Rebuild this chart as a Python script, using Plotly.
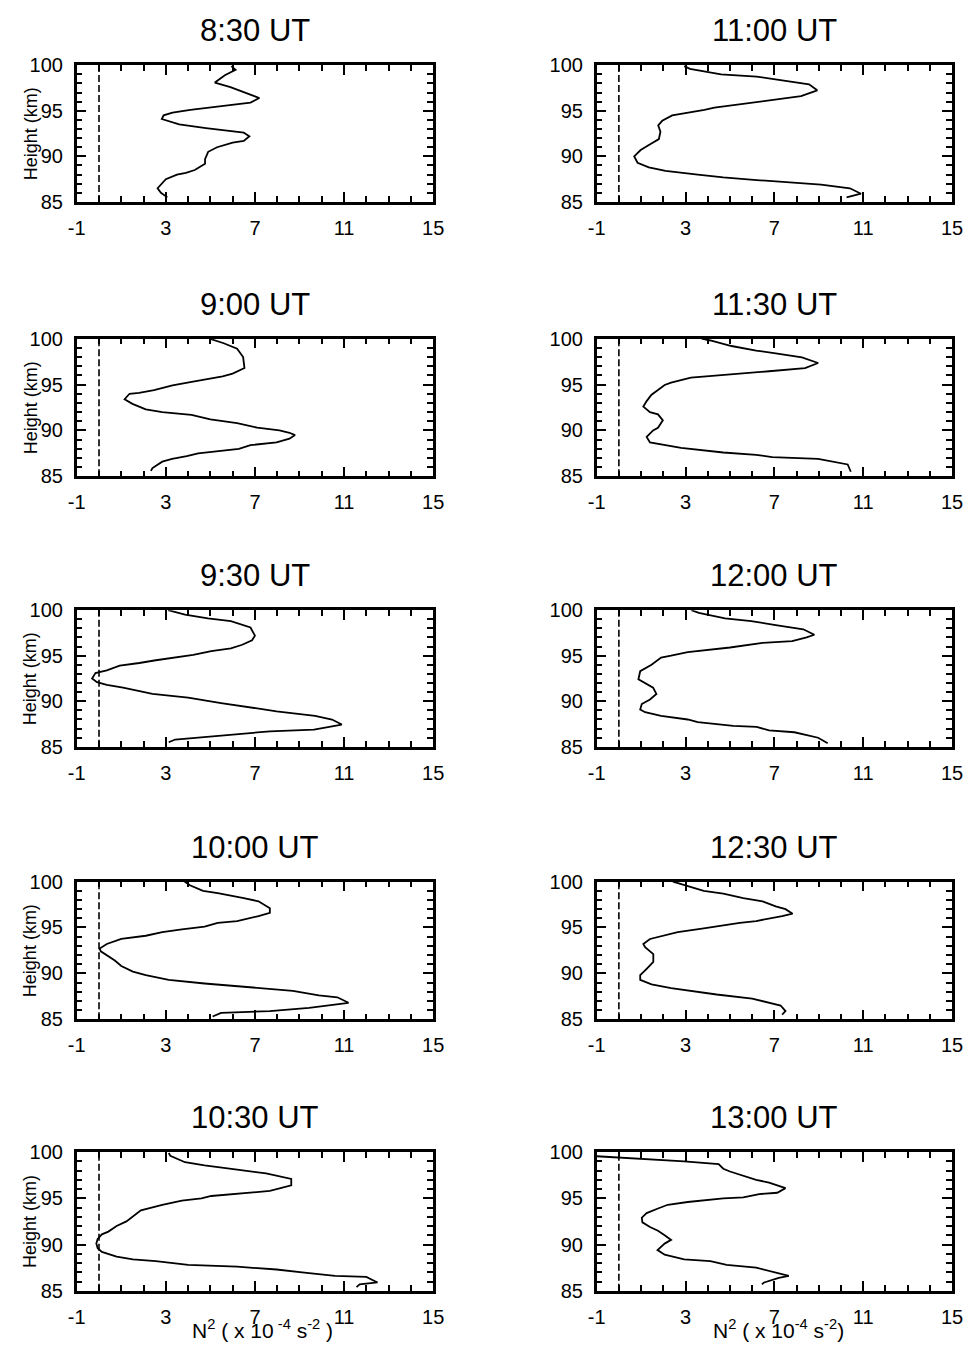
import plotly.graph_objects as go

# page is 976x1355; the browser body keeps its default 8px margin,
# so the figure itself is 16px smaller and all page positions are shifted by -8
PAGE_W, PAGE_H = 976, 1355
OFF = 8
W, H = PAGE_W - 2 * OFF, PAGE_H - 2 * OFF

# ---------------- data (N^2 in 1e-4 s^-2, height in km) ----------------
h_0830 = [99.9, 99.5, 98.9, 98.1, 97.6, 97.0, 96.4, 95.9, 95.6, 95.3, 95.1, 94.8, 94.5, 94.1, 93.5, 93.1, 92.8, 92.6, 92.2, 91.7, 91.5, 91.0, 90.5, 89.7, 89.2, 88.5, 88.2, 88.0, 87.5, 86.9, 86.5, 86.0, 85.5]
n2_0830 = [5.94, 6.13, 5.65, 5.2, 5.9, 6.6, 7.2, 6.8, 5.8, 4.6, 4.1, 3.3, 2.9, 2.82, 3.6, 4.8, 6.0, 6.5, 6.75, 6.5, 6.0, 5.3, 4.9, 4.76, 4.76, 4.3, 3.9, 3.5, 3.0, 2.78, 2.63, 2.78, 3.07]

h_1100 = [99.9, 99.6, 99.0, 98.75, 97.9, 97.25, 96.6, 96.25, 95.7, 95.35, 95.1, 94.5, 93.9, 93.4, 92.7, 91.9, 91.25, 90.7, 90.0, 89.3, 88.8, 88.4, 88.0, 87.7, 87.4, 86.9, 86.5, 85.9, 85.5]
n2_1100 = [2.94, 3.2, 4.6, 6.2, 8.56, 8.93, 8.2, 7.1, 5.6, 4.3, 3.85, 2.4, 1.95, 1.77, 1.87, 1.8, 1.35, 0.98, 0.69, 0.84, 1.35, 2.1, 3.55, 4.7, 6.2, 9.1, 10.4, 10.9, 10.25]

h_0900 = [100.0, 99.5, 98.9, 98.0, 96.8, 96.2, 95.9, 95.6, 95.3, 94.9, 94.4, 94.1, 94.0, 93.4, 92.9, 92.3, 92.0, 91.7, 91.2, 90.8, 90.3, 90.0, 89.75, 89.5, 89.1, 88.7, 88.4, 88.0, 87.7, 87.5, 87.2, 86.9, 86.6, 85.9, 85.6]
n2_0900 = [4.96, 5.6, 6.2, 6.47, 6.53, 6.0, 5.55, 4.75, 4.16, 3.3, 2.47, 1.8, 1.37, 1.15, 1.5, 2.1, 2.84, 4.15, 5.0, 6.2, 7.1, 8.1, 8.55, 8.8, 8.55, 7.97, 6.8, 6.28, 5.33, 4.45, 3.94, 3.28, 2.84, 2.4, 2.33]

h_1130 = [100.0, 99.8, 99.2, 98.7, 98.4, 97.95, 97.35, 96.8, 96.45, 96.1, 95.75, 95.2, 94.95, 94.4, 93.9, 93.2, 92.6, 92.0, 91.75, 91.1, 90.3, 90.0, 89.3, 88.7, 88.5, 88.1, 87.6, 87.35, 87.1, 86.9, 86.3, 85.8, 85.5]
n2_1130 = [3.72, 4.12, 5.07, 6.18, 7.06, 8.24, 8.97, 8.38, 6.76, 4.99, 3.24, 2.35, 2.06, 1.76, 1.47, 1.25, 1.1, 1.4, 1.76, 1.98, 1.76, 1.54, 1.25, 1.4, 1.9, 2.8, 4.7, 6.18, 6.9, 8.97, 10.3, 10.4, 10.44]

h_0930 = [100.0, 99.5, 99.1, 98.8, 98.1, 97.2, 96.7, 96.2, 95.8, 95.5, 95.1, 94.8, 94.5, 94.2, 93.9, 93.4, 93.1, 92.5, 92.1, 91.8, 91.5, 90.8, 90.4, 89.8, 89.4, 88.9, 88.4, 88.0, 87.45, 86.9, 86.7, 86.4, 86.1, 85.8, 85.5]
n2_0930 = [3.1, 3.86, 4.89, 5.92, 6.8, 7.0, 6.87, 6.43, 5.92, 5.04, 4.23, 3.28, 2.55, 1.81, 0.93, 0.35, -0.16, -0.31, -0.09, 0.35, 1.08, 2.4, 4.0, 5.48, 6.5, 7.97, 9.7, 10.46, 10.9, 9.65, 7.67, 6.2, 4.74, 3.42, 3.13]

h_1200 = [100.0, 99.7, 99.1, 98.8, 98.35, 97.9, 97.3, 97.0, 96.6, 96.4, 95.9, 95.4, 95.0, 94.8, 94.0, 93.3, 92.4, 91.8, 91.5, 90.8, 90.2, 89.7, 89.1, 88.8, 88.4, 88.0, 87.7, 87.3, 87.2, 86.8, 86.6, 86.0, 85.4]
n2_1200 = [3.26, 3.6, 4.78, 5.96, 7.06, 8.3, 8.8, 8.45, 7.8, 6.47, 5.0, 3.1, 2.35, 1.9, 1.47, 0.96, 0.88, 1.32, 1.54, 1.69, 1.4, 1.03, 0.96, 1.18, 1.9, 3.1, 3.55, 5.15, 6.2, 6.76, 7.9, 8.97, 9.4]

h_1000 = [100.0, 99.6, 99.0, 98.75, 98.2, 97.85, 97.1, 96.6, 96.25, 95.7, 95.5, 95.1, 94.8, 94.5, 94.1, 93.9, 93.75, 93.2, 92.7, 92.4, 92.0, 91.4, 90.8, 90.2, 89.8, 89.3, 88.9, 88.6, 88.3, 88.1, 87.6, 87.4, 86.8, 86.25, 85.9, 85.7, 85.3]
n2_1000 = [3.84, 4.08, 4.67, 5.33, 6.5, 7.16, 7.67, 7.67, 7.16, 6.2, 5.33, 4.74, 3.72, 2.84, 2.1, 1.52, 1.0, 0.35, 0.03, 0.08, 0.35, 0.71, 1.0, 1.52, 2.1, 3.13, 4.74, 6.2, 7.67, 8.7, 9.87, 10.7, 11.2, 9.43, 7.67, 5.48, 5.1]

h_1230 = [100.0, 99.5, 99.0, 98.7, 98.2, 97.85, 97.3, 97.0, 96.5, 96.25, 95.7, 95.5, 95.2, 94.9, 94.5, 93.9, 93.75, 93.2, 92.85, 92.1, 91.25, 90.5, 89.8, 89.3, 88.8, 88.4, 88.0, 87.7, 87.25, 86.8, 86.5, 85.9, 85.5]
n2_1230 = [2.43, 3.1, 3.82, 4.7, 5.6, 6.47, 7.06, 7.5, 7.82, 7.35, 6.18, 5.44, 4.7, 3.82, 2.65, 1.69, 1.4, 1.1, 1.18, 1.55, 1.55, 1.25, 0.96, 0.96, 1.47, 2.35, 3.5, 4.4, 6.0, 6.76, 7.28, 7.5, 7.35]

h_1030 = [99.9, 99.6, 98.9, 98.55, 98.1, 97.7, 97.1, 96.4, 95.8, 95.5, 95.25, 95.0, 94.75, 94.3, 93.9, 93.7, 92.5, 92.0, 91.4, 91.1, 90.6, 90.1, 89.6, 89.2, 88.7, 88.4, 88.2, 87.8, 87.6, 87.3, 86.9, 86.6, 86.5, 85.9, 85.7, 85.4]
n2_1030 = [3.13, 3.2, 3.86, 4.74, 6.2, 7.5, 8.63, 8.63, 7.67, 6.2, 5.04, 4.6, 3.72, 2.84, 2.1, 1.88, 1.23, 0.79, 0.42, 0.13, -0.06, -0.12, -0.06, 0.13, 0.79, 1.52, 2.55, 4.0, 6.2, 7.97, 9.43, 10.6, 12.0, 12.5, 11.7, 11.56]

h_1300 = [99.55, 99.0, 98.7, 98.2, 97.9, 97.4, 97.0, 96.7, 96.4, 96.1, 95.6, 95.45, 95.1, 95.0, 94.6, 94.3, 93.9, 93.4, 92.9, 92.4, 91.9, 91.5, 91.0, 90.5, 90.1, 89.6, 89.4, 88.9, 88.4, 88.2, 87.8, 87.5, 87.1, 86.8, 86.6, 86.4, 86.1, 85.9, 85.7]
n2_1300 = [-1.0, 2.94, 4.49, 4.7, 5.0, 5.66, 6.18, 6.76, 7.13, 7.5, 7.13, 6.32, 5.6, 4.7, 3.1, 2.2, 1.76, 1.25, 1.03, 1.06, 1.4, 1.76, 2.06, 2.35, 2.06, 1.84, 1.74, 2.06, 2.94, 4.12, 4.85, 6.18, 6.9, 7.35, 7.65, 7.2, 6.76, 6.54, 6.44]

panel_titles = ["8:30 UT", "11:00 UT", "9:00 UT", "11:30 UT", "9:30 UT",
                "12:00 UT", "10:00 UT", "12:30 UT", "10:30 UT", "13:00 UT"]
panel_x = [n2_0830, n2_1100, n2_0900, n2_1130, n2_0930, n2_1200, n2_1000, n2_1230, n2_1030, n2_1300]
panel_y = [h_0830, h_1100, h_0900, h_1130, h_0930, h_1200, h_1000, h_1230, h_1030, h_1300]

x_range = [-1, 15]
y_range = [85, 100]
x_ticks = [-1, 3, 7, 11, 15]
y_ticks = [85, 90, 95, 100]
ref_level = [0, 0]          # N^2 = 0 reference (dashed)
ref_height = [85, 100]

# ---------------- layout geometry (page pixels) ----------------
col_px = [(69, 433), (600, 963)]
row_px = [(55, 194), (333, 473), (609, 748), (885, 1025), (1160, 1301)]


def px(p):       # page x pixel -> paper x
    return (p - OFF) / W


def py(p):       # page y pixel -> paper y
    return 1 - (p - OFF) / H


FONT = "Liberation Sans, Arial, Helvetica, sans-serif"

fig = go.Figure()
layout = dict(
    width=W, height=H, margin=dict(l=0, r=0, t=0, b=0),
    paper_bgcolor="white", plot_bgcolor="white", showlegend=False,
    font=dict(family=FONT, color="black"),
)
annotations = []

for i in range(10):
    r, c = divmod(i, 2)
    k = i + 1
    xa = "x" if k == 1 else f"x{k}"
    ya = "y" if k == 1 else f"y{k}"
    x0, x1 = col_px[c]
    t0, t1 = row_px[r]
    axx = dict(
        domain=[px(x0), px(x1)], anchor=ya, range=x_range,
        tickmode="array", tickvals=x_ticks, ticktext=[str(v) for v in x_ticks],
        ticks="inside", ticklen=10, tickwidth=1.5, tickcolor="black",
        showline=True, linewidth=2.5, linecolor="black", mirror="ticks",
        minor=dict(dtick=1, tick0=-1, ticks="inside", ticklen=6, tickwidth=1.5, tickcolor="black"),
        showgrid=False, zeroline=False,
        tickfont=dict(size=20, family=FONT, color="black"),
        ticklabelstandoff=6,
    )
    axy = dict(
        domain=[py(t1), py(t0)], anchor=xa, range=y_range,
        tickmode="array", tickvals=y_ticks, ticktext=[str(v) for v in y_ticks],
        ticks="inside", ticklen=10, tickwidth=1.5, tickcolor="black",
        showline=True, linewidth=2.5, linecolor="black", mirror="ticks",
        minor=dict(dtick=1, tick0=85, ticks="inside", ticklen=6, tickwidth=1.5, tickcolor="black"),
        showgrid=False, zeroline=False,
        tickfont=dict(size=20, family=FONT, color="black"),
        ticklabelstandoff=7,
    )
    layout["xaxis" if k == 1 else f"xaxis{k}"] = axx
    layout["yaxis" if k == 1 else f"yaxis{k}"] = axy

    fig.add_trace(go.Scatter(x=ref_level, y=ref_height, mode="lines", xaxis=xa, yaxis=ya,
                             line=dict(color="black", width=1.6, dash="7px,3px"), hoverinfo="skip"))
    fig.add_trace(go.Scatter(x=panel_x[i], y=panel_y[i], mode="lines", xaxis=xa, yaxis=ya,
                             line=dict(color="black", width=1.8)))

    # panel title
    annotations.append(dict(
        text=panel_titles[i], xref="paper", yref="paper",
        x=px((x0 + x1) / 2), y=py(t0 - 35), xanchor="center", yanchor="middle",
        showarrow=False, font=dict(size=31, family=FONT, color="black")))
    # y axis title on left column
    if c == 0:
        annotations.append(dict(
            text="Height (km)", xref="paper", yref="paper", textangle=-90,
            x=px(22), y=py((t0 + t1) / 2), xanchor="center", yanchor="middle",
            showarrow=False, font=dict(size=18, family=FONT, color="black")))

# x axis titles on the bottom row
annotations.append(dict(
    text="N<sup>2</sup> ( x 10<sup> -4</sup> s<sup>-2</sup> )", xref="paper", yref="paper",
    x=px(259), y=py(1355), xanchor="center", yanchor="bottom", showarrow=False,
    font=dict(size=21, family=FONT, color="black")))
annotations.append(dict(
    text="N<sup>2</sup> ( x 10<sup>-4</sup> s<sup>-2</sup>)", xref="paper", yref="paper",
    x=px(786), y=py(1355), xanchor="center", yanchor="bottom", showarrow=False,
    font=dict(size=21, family=FONT, color="black")))

layout["annotations"] = annotations
fig.update_layout(**layout)
fig.write_html("out.html", config={"displayModeBar": False})
